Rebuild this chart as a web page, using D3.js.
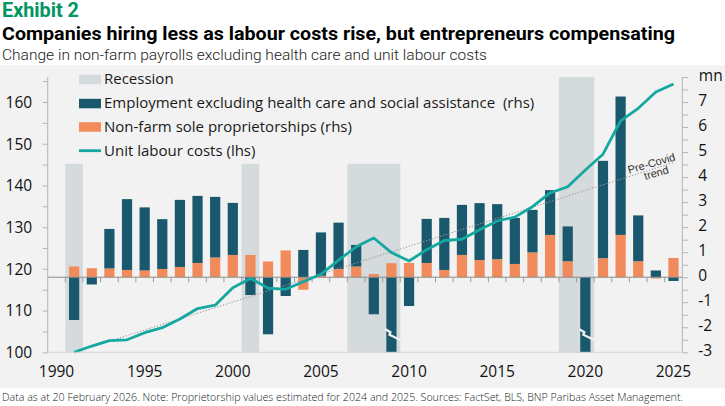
<!DOCTYPE html>
<html>
<head>
<meta charset="utf-8">
<script src="https://cdn.jsdelivr.net/npm/d3@7"></script>
<style>
    body { margin: 0; background: #fff; }
    svg { display: block; font-family: "Open Sans", sans-serif; }
</style>
</head>
<body>
<script>

// x categories, one band per year
const years = [1990, 1991, 1992, 1993, 1994, 1995, 1996, 1997, 1998, 1999,
               2000, 2001, 2002, 2003, 2004, 2005, 2006, 2007, 2008, 2009,
               2010, 2011, 2012, 2013, 2014, 2015, 2016, 2017, 2018, 2019,
               2020, 2021, 2022, 2023, 2024, 2025]

// years that carry data (1990 band is empty)
const dataYears = years.slice(1)

// change in employment ex health care and social assistance, mn (rhs)
const employment = [-1.71, -0.29, 1.58, 2.83, 2.52, 1.99, 2.68, 2.68, 2.42, 2.08,
                    -0.71, -2.28, -0.75, 1.09, 1.73, 1.85, 0.86, -1.48, -5.6, -1.15,
                    1.76, 2.08, 2.00, 2.27, 2.20, 1.84, 1.70, 1.79, 1.39, -9.5,
                    3.89, 5.53, 1.83, 0.27, -0.15]

// change in non-farm sole proprietorships, mn (rhs)
const proprietors = [0.43, 0.36, 0.35, 0.29, 0.27, 0.33, 0.41, 0.57, 0.79, 0.89,
                     0.89, 0.63, 1.07, -0.50, 0.06, 0.33, 0.43, 0.13, 0.56, 0.57,
                     0.57, 0.29, 0.89, 0.69, 0.72, 0.53, 0.99, 1.69, 0.64, 0.00,
                     0.76, 1.69, 0.64, -0.05, 0.77]

// unit labour costs index (lhs)
const unitLabourCosts = [100.0, 101.5, 102.8, 103.0, 104.7, 105.9, 108.0, 110.5, 111.3, 115.5,
                         117.7, 115.4, 115.1, 116.9, 118.7, 122.1, 125.3, 127.4, 123.9, 121.9,
                         124.6, 126.8, 127.1, 129.4, 131.5, 132.4, 134.9, 138.2, 139.7, 143.7,
                         147.5, 155.5, 158.5, 162.4, 164.3]

// pre-Covid trend of unit labour costs (lhs)
const trendYears = [1991, 2025]
const trendValues = [100, 145.5]

// recessions (first and last year shaded)
const recessionStart = [1991, 2001, 2007, 2019]
const recessionEnd = [1991, 2001, 2009, 2020]

// bars cut by the axis floor
const brokenYears = [2009, 2020]

const xTickLabels = [1990, 1995, 2000, 2005, 2010, 2015, 2020, 2025]
const leftTickLabels = [100, 110, 120, 130, 140, 150, 160]
const rightTickLabels = [-3, -2, -1, 0, 1, 2, 3, 4, 5, 6, 7]

const legendLabels = ["Recession",
                      "Employment excluding health care and social assistance  (rhs)",
                      "Non-farm sole proprietorships (rhs)",
                      "Unit labour costs (lhs)"]

const colors = {
    recession: "#d5dadd",
    employment: "#1a586d",
    proprietors: "#f28b5c",
    ulc: "#14a8a0",
    trend: "#9a9a9a",
    axis: "#b5b5b5"
}

const W = 725, H = 406
const plot = {left: 47.7, right: 682.3, top: 77, bottom: 352.3}

const svg = d3.select("body")
    .append("svg")
    .attr("width", W)
    .attr("height", H)

// page and panel backgrounds
svg.append("rect").attr("width", W).attr("height", H).attr("fill", "#fff")
svg.append("rect")
    .attr("y", 65)
    .attr("width", W)
    .attr("height", 388 - 65)
    .attr("fill", "#f2f2f2")

// header
const header = svg.append("g").style("font-family", "Roboto, sans-serif")
header.append("text")
    .attr("x", 2).attr("y", 17)
    .attr("textLength", 77).attr("lengthAdjust", "spacingAndGlyphs")
    .style("font-size", "19.5px").style("font-weight", 700)
    .attr("fill", "#00965f")
    .text("Exhibit 2")
header.append("text")
    .attr("x", 2).attr("y", 39.5)
    .attr("textLength", 673).attr("lengthAdjust", "spacingAndGlyphs")
    .style("font-size", "17.5px").style("font-weight", 700)
    .attr("fill", "#000")
    .text("Companies hiring less as labour costs rise, but entrepreneurs compensating")
header.append("text")
    .attr("x", 2).attr("y", 60)
    .attr("textLength", 485).attr("lengthAdjust", "spacingAndGlyphs")
    .style("font-size", "14.5px").style("font-weight", 300)
    .attr("fill", "#222")
    .text("Change in non-farm payrolls excluding health care and unit labour costs")

// footer
svg.append("text")
    .attr("x", 2).attr("y", 401)
    .attr("textLength", 681).attr("lengthAdjust", "spacingAndGlyphs")
    .style("font-size", "10.5px").style("font-weight", 300)
    .attr("fill", "#222")
    .text("Data as at 20 February 2026. Note: Proprietorship values estimated for 2024 and 2025. Sources: FactSet, BLS, BNP Paribas Asset Management.")

// scales
const x = d3.scaleBand()
    .domain(years)
    .range([plot.left, plot.right])
    .paddingInner(0.42)
    .paddingOuter(0.21)
const step = x.step()
const xc = yr => x(yr) + x.bandwidth() / 2

const yL = d3.scaleLinear().domain([100, 166]).range([plot.bottom, plot.top])
const yR = d3.scaleLinear().domain([-3, 8]).range([plot.bottom, plot.top])

svg.append("clipPath").attr("id", "plotclip")
    .append("rect")
    .attr("x", plot.left).attr("y", plot.top)
    .attr("width", plot.right - plot.left)
    .attr("height", plot.bottom - plot.top)

// legend first, so the recession shading knows where to stop
const legend = svg.append("g").attr("class", "legend")
const legendBase = [84.3, 108.3, 131.7, 155.5]
legendLabels.forEach((label, i) => {
    const by = legendBase[i]
    if (i === 3) {
        legend.append("line")
            .attr("x1", 79).attr("x2", 101)
            .attr("y1", by - 4.8).attr("y2", by - 4.8)
            .attr("stroke", colors.ulc).attr("stroke-width", 2.8)
    } else {
        legend.append("rect")
            .attr("x", 79).attr("y", by - 9.5)
            .attr("width", 22).attr("height", 9.5)
            .attr("fill", [colors.recession, colors.employment, colors.proprietors][i])
    }
    legend.append("text")
        .attr("x", 104).attr("y", by)
        .style("font-size", "15px")
        .style("white-space", "pre")
        .attr("fill", "#1a1a1a")
        .text(label)
})
const legendRight = legend.node().getBBox().x + legend.node().getBBox().width

// recession shading; the ones under the legend stop below it
const chart = svg.insert("g", ".legend")
const recessions = recessionStart.map((s, i) => ({start: s, end: recessionEnd[i]}))
const recessionTop = d => (xc(d.start) - step / 2 < legendRight) ? yL(145.2) : plot.top
chart.append("g")
    .selectAll("rect")
    .data(recessions)
    .join("rect")
    .attr("x", d => xc(d.start) - step / 2)
    .attr("width", d => (d.end - d.start + 1) * step)
    .attr("y", recessionTop)
    .attr("height", d => plot.bottom - recessionTop(d))
    .attr("fill", colors.recession)

// stacked bars, positive and negative parts apart
const rows = dataYears.map((yr, i) => ({year: yr, prop: proprietors[i], emp: employment[i]}))
const series = d3.stack()
    .keys(["prop", "emp"])
    .offset(d3.stackOffsetDiverging)(rows)

chart.append("g")
    .attr("clip-path", "url(#plotclip)")
    .selectAll("g")
    .data(series)
    .join("g")
    .attr("fill", d => d.key === "emp" ? colors.employment : colors.proprietors)
    .selectAll("rect")
    .data(d => d)
    .join("rect")
    .attr("x", d => x(d.data.year))
    .attr("width", x.bandwidth())
    .attr("y", d => yR(Math.max(d[0], d[1])))
    .attr("height", d => Math.abs(yR(d[0]) - yR(d[1])))

// break marks on the bars that run off the axis
chart.append("g")
    .selectAll("path")
    .data(brokenYears)
    .join("path")
    .attr("d", yr => {
        const cx = xc(yr)
        return d3.line()([[cx - 6, yR(-2.08)], [cx - 1, yR(-2.2)], [cx - 2, yR(-2.3)], [cx + 11, yR(-2.55)]])
    })
    .attr("fill", "none")
    .attr("stroke", "#f2f2f2")
    .attr("stroke-width", 2.2)

// zero line and year ticks
chart.append("line")
    .attr("x1", plot.left).attr("x2", plot.right)
    .attr("y1", yR(0)).attr("y2", yR(0))
    .attr("stroke", "#8c8c8c").attr("stroke-width", 1)
chart.append("g")
    .selectAll("line")
    .data(dataYears)
    .join("line")
    .attr("x1", yr => xc(yr) - step / 2).attr("x2", yr => xc(yr) - step / 2)
    .attr("y1", yR(0)).attr("y2", yR(0) + 5)
    .attr("stroke", "#9a9a9a")

// pre-Covid trend
chart.append("path")
    .datum(trendYears.map((yr, i) => [yr, trendValues[i]]))
    .attr("d", d3.line().x(d => xc(d[0])).y(d => yL(d[1])))
    .attr("fill", "none")
    .attr("stroke", colors.trend)
    .attr("stroke-width", 1.1)
    .attr("stroke-dasharray", "1.2,1.8")

const trendLabel = chart.append("g")
    .attr("transform", `translate(${xc(2023) + 14.5},${yL(144.2)}) rotate(-16)`)
    .style("font-family", "'Liberation Sans', Arial, sans-serif")
    .style("font-size", "11px")
    .attr("fill", "#333")
trendLabel.append("text").attr("text-anchor", "middle").attr("y", -1).text("Pre-Covid")
trendLabel.append("text").attr("text-anchor", "middle").attr("x", 2).attr("y", 9.5).text("trend")

// unit labour costs
chart.append("path")
    .datum(dataYears.map((yr, i) => [yr, unitLabourCosts[i]]))
    .attr("d", d3.line().x(d => xc(d[0])).y(d => yL(d[1])))
    .attr("fill", "none")
    .attr("stroke", colors.ulc)
    .attr("stroke-width", 2.8)
    .attr("stroke-linejoin", "round")

// axes
const axes = svg.append("g")
axes.append("line")
    .attr("x1", plot.left).attr("x2", plot.right)
    .attr("y1", plot.bottom).attr("y2", plot.bottom)
    .attr("stroke", "#d6d6d6")

const leftAxis = d3.axisLeft(yL)
    .tickValues(d3.range(100, 166, 5))
    .tickSize(5)
    .tickFormat(d => leftTickLabels.includes(d) ? d : "")
axes.append("g")
    .attr("transform", `translate(${plot.left},0)`)
    .call(leftAxis)
    .call(g => g.select(".domain").attr("stroke", colors.axis).attr("d", `M-0,${plot.bottom}V${plot.top}`))
    .call(g => g.selectAll(".tick line").attr("stroke", colors.axis))
    .call(g => g.selectAll(".tick text")
        .attr("x", -15.5).attr("dy", null).attr("y", 5.3)
        .attr("fill", "#111")
        .style("font-family", "'Open Sans', sans-serif")
        .style("font-size", "15.5px").style("font-weight", 500))

const rightAxis = d3.axisRight(yR)
    .tickValues(d3.range(-3, 8.01, 0.5))
    .tickSize(6)
    .tickFormat(d => rightTickLabels.includes(d) ? d3.format("")(d).replace("−", "-") : "")
axes.append("g")
    .attr("transform", `translate(${plot.right},0)`)
    .call(rightAxis)
    .call(g => g.select(".domain").attr("stroke", colors.axis).attr("d", `M0,${plot.bottom}V${plot.top}`))
    .call(g => g.selectAll(".tick line").attr("stroke", colors.axis))
    .call(g => g.selectAll(".tick text")
        .attr("x", 16).attr("dy", null).attr("y", 3)
        .attr("fill", "#111")
        .style("font-family", "'Open Sans', sans-serif")
        .style("font-size", "15.5px").style("font-weight", 500))

axes.append("text")
    .attr("x", plot.right + 16.5).attr("y", yR(8) + 3.5)
    .attr("fill", "#111")
    .style("font-size", "15.5px").style("font-weight", 500)
    .text("mn")

axes.append("g")
    .selectAll("text")
    .data(xTickLabels)
    .join("text")
    .attr("x", yr => xc(yr))
    .attr("y", 376.7)
    .attr("text-anchor", "middle")
    .attr("fill", "#111")
    .style("font-size", "15.5px").style("font-weight", 500)
    .text(yr => yr)

</script>
</body>
</html>
